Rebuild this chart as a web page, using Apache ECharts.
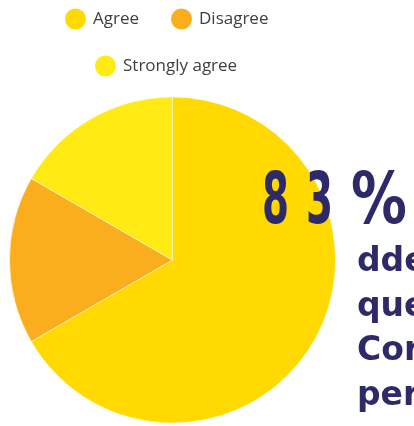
<!DOCTYPE html>
<html>
<head>
<meta charset="utf-8">
<script src="https://cdn.jsdelivr.net/npm/echarts@6/dist/echarts.min.js"></script>
<style>
html,body{margin:0;padding:0;background:#fff;}
#chart{width:414px;height:426px;}
</style>
</head>
<body>
<div id="chart"></div>
<script>
const categories = ['Agree', 'Disagree', 'Strongly agree'];
const values = [4, 1, 1];
const colors = ['#FFD900', '#FBAE1D', '#FFEA14'];
const bigText = '83%';
const bodyLines = ['dde', 'que', 'Cor', 'per'];

const textColor = '#2E2A69';
const chart = echarts.init(document.getElementById('chart'), null, {renderer: 'canvas'});

const bigX = [262, 306, 351];
const bigScale = [0.6, 0.6, 0.86];
const graphics = [];
bigText.split('').forEach((ch, i) => {
  graphics.push({
    type: 'text', x: bigX[i], y: 204.5, scaleX: bigScale[i], z: 100,
    style: {text: ch, font: 'bold 72px "DejaVu Sans Condensed", "DejaVu Sans"', fill: textColor, verticalAlign: 'middle', align: 'left'}
  });
});
bodyLines.forEach((line, i) => {
  graphics.push({
    type: 'text', x: 357, y: 262.5 + i * 44.7, z: 100,
    style: {text: line, font: 'bold 33px "DejaVu Sans"', fill: textColor, verticalAlign: 'middle', align: 'left'}
  });
});

const legendCommon = {
  orient: 'horizontal', icon: 'circle', itemWidth: 23, itemHeight: 23, itemGap: 30, padding: 5,
  textStyle: {fontFamily: 'Open Sans', fontSize: 17, color: '#404040', padding: [0, 0, 0, 1]}
};

chart.setOption({
  animation: false,
  color: colors,
  legend: [
    Object.assign({}, legendCommon, {data: categories.slice(0, 2), left: 58, top: 1.5}),
    Object.assign({}, legendCommon, {data: categories.slice(2), left: 88, top: 48.5})
  ],
  graphic: graphics,
  series: [{
    type: 'pie',
    center: [172.5, 260],
    radius: 163,
    startAngle: 90,
    clockwise: true,
    label: {show: false},
    labelLine: {show: false},
    itemStyle: {borderColor: '#fff', borderWidth: 0.5},
    emphasis: {disabled: true},
    data: categories.map((c, i) => ({name: c, value: values[i]}))
  }]
});
</script>
</body>
</html>
